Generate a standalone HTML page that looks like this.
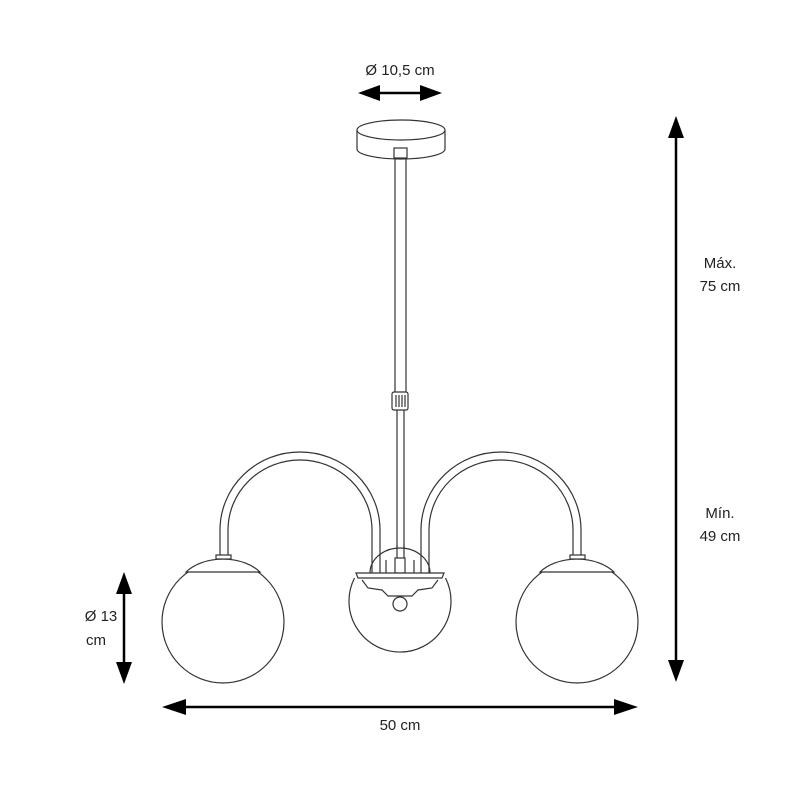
<!DOCTYPE html>
<html><head><style>
body{margin:0;background:#fff;width:800px;height:800px;overflow:hidden}
svg{display:block}
text{font-family:"Liberation Sans",sans-serif;font-size:15px;fill:#222}
</style></head><body>
<svg width="800" height="800" viewBox="0 0 800 800" fill="none" stroke="#333" stroke-width="1.2">
<!-- ceiling canopy -->
<path d="M357 130 L357 149 A44 10 0 0 0 445 149 L445 130" fill="#fff"/>
<ellipse cx="401" cy="130" rx="44" ry="10" fill="#fff"/>
<rect x="394" y="148" width="13" height="10" fill="#fff"/>
<!-- rod -->
<line x1="395" y1="158" x2="395" y2="392"/>
<line x1="406" y1="158" x2="406" y2="392"/>
<rect x="392" y="392" width="16" height="18" rx="2" fill="#fff"/>
<line x1="396" y1="395" x2="396" y2="407"/><line x1="399" y1="395" x2="399" y2="407"/><line x1="402" y1="395" x2="402" y2="407"/><line x1="405" y1="395" x2="405" y2="407"/>
<line x1="397" y1="410" x2="397" y2="575"/>
<line x1="404" y1="410" x2="404" y2="575"/>
<!-- center dome -->
<path d="M370 573 A30 25 0 0 1 430 573" fill="#fff"/>
<line x1="397" y1="545" x2="397" y2="573"/><line x1="404" y1="545" x2="404" y2="573"/>
<line x1="386" y1="560" x2="386" y2="573"/><line x1="414" y1="560" x2="414" y2="573"/>
<rect x="395" y="558" width="10" height="15" fill="#fff"/>
<!-- left arm -->
<path d="M220 555 L220 530 A80 78 0 0 1 380 530 L380 574"/>
<path d="M228 555 L228 530 A72 70 0 0 1 372 530 L372 574"/>
<!-- right arm -->
<path d="M421 574 L421 530 A80 78 0 0 1 581 530 L581 555"/>
<path d="M429 574 L429 530 A72 70 0 0 1 573 530 L573 555"/>
<!-- center globe -->
<path d="M354.5 578 A51 51 0 1 0 445.5 578" fill="#fff"/>
<path d="M356 573 L444 573 L442 578 L358 578 Z" fill="#fff"/>
<path d="M362 580 L368 588 L382 590 L388 596 L412 596 L418 590 L432 588 L438 580"/>
<circle cx="400" cy="604" r="7" fill="#fff"/>
<!-- left globe -->
<circle cx="223" cy="622" r="61" fill="#fff"/>
<path d="M186 572 A45 30 0 0 1 260 572 Z" fill="#fff"/>
<rect x="216" y="555" width="15" height="4" fill="#fff"/>
<!-- right globe -->
<circle cx="577" cy="622" r="61" fill="#fff"/>
<path d="M540 572 A45 30 0 0 1 614 572 Z" fill="#fff"/>
<rect x="570" y="555" width="15" height="4" fill="#fff"/>
<!-- dimension arrows -->
<g stroke="#000" stroke-width="2.5" fill="#000">
<line x1="372" y1="93" x2="428" y2="93"/>
<polygon stroke="none" points="358,93 380,85 380,101"/>
<polygon stroke="none" points="442,93 420,85 420,101"/>
<line x1="676" y1="135" x2="676" y2="665"/>
<polygon stroke="none" points="676,116 668,138 684,138"/>
<polygon stroke="none" points="676,682 668,660 684,660"/>
<line x1="178" y1="707" x2="622" y2="707"/>
<polygon stroke="none" points="162,707 186,699 186,715"/>
<polygon stroke="none" points="638,707 614,699 614,715"/>
<line x1="124" y1="590" x2="124" y2="666"/>
<polygon stroke="none" points="124,572 116,594 132,594"/>
<polygon stroke="none" points="124,684 116,662 132,662"/>
</g>
<g stroke="none">
<text x="400" y="75" text-anchor="middle">Ø 10,5 cm</text>
<text x="720" y="268" text-anchor="middle">Máx.</text>
<text x="720" y="291" text-anchor="middle">75 cm</text>
<text x="720" y="518" text-anchor="middle">Mín.</text>
<text x="720" y="541" text-anchor="middle">49 cm</text>
<text x="101" y="621" text-anchor="middle">Ø 13</text>
<text x="96" y="645" text-anchor="middle">cm</text>
<text x="400" y="730" text-anchor="middle">50 cm</text>
</g>
</svg>
</body></html>
